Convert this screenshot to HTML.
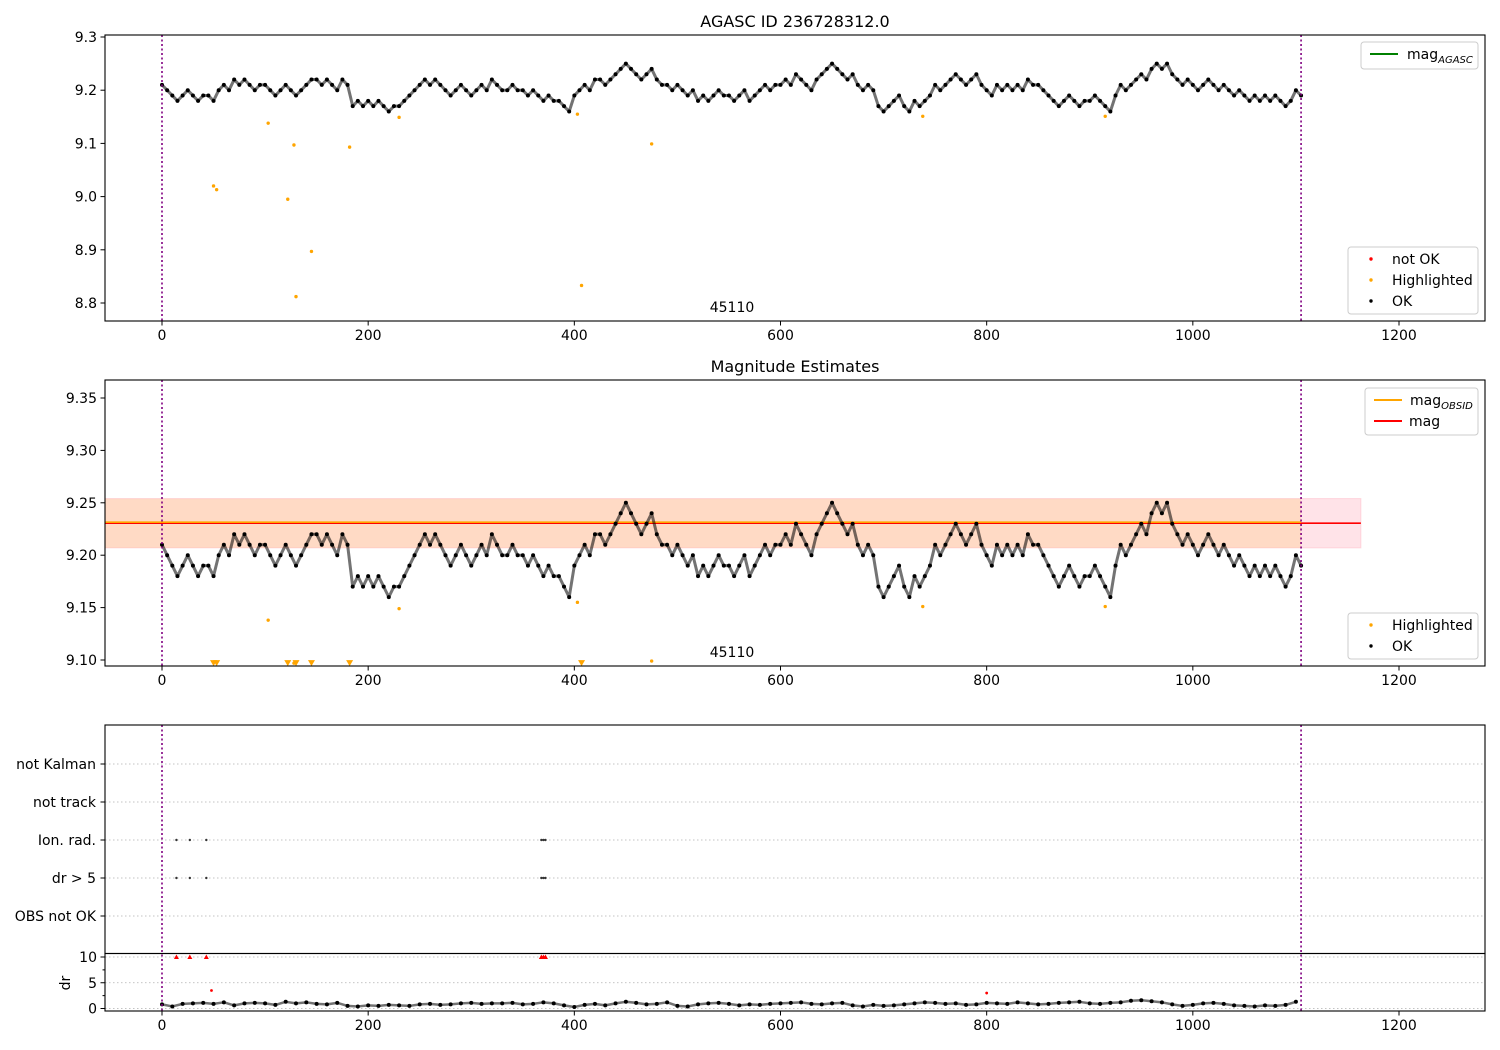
<!DOCTYPE html>
<html><head><meta charset="utf-8"><style>
body{margin:0;background:#fff}
svg{display:block;font-family:"DejaVu Sans","Liberation Sans",sans-serif}
</style></head><body>
<svg id="chart" width="1500" height="1050" xmlns="http://www.w3.org/2000/svg"></svg>
<script>
const magStep = 5;
const magValues = [
9.21,9.20,9.19,9.18,9.19,9.20,9.19,9.18,9.19,9.19,
9.18,9.20,9.21,9.20,9.22,9.21,9.22,9.21,9.20,9.21,
9.21,9.20,9.19,9.20,9.21,9.20,9.19,9.20,9.21,9.22,
9.22,9.21,9.22,9.21,9.20,9.22,9.21,9.17,9.18,9.17,
9.18,9.17,9.18,9.17,9.16,9.17,9.17,9.18,9.19,9.20,
9.21,9.22,9.21,9.22,9.21,9.20,9.19,9.20,9.21,9.20,
9.19,9.20,9.21,9.20,9.22,9.21,9.20,9.20,9.21,9.20,
9.20,9.19,9.20,9.19,9.18,9.19,9.18,9.18,9.17,9.16,
9.19,9.20,9.21,9.20,9.22,9.22,9.21,9.22,9.23,9.24,
9.25,9.24,9.23,9.22,9.23,9.24,9.22,9.21,9.21,9.20,
9.21,9.20,9.19,9.20,9.18,9.19,9.18,9.19,9.20,9.19,
9.19,9.18,9.19,9.20,9.18,9.19,9.20,9.21,9.20,9.21,
9.21,9.22,9.21,9.23,9.22,9.21,9.20,9.22,9.23,9.24,
9.25,9.24,9.23,9.22,9.23,9.21,9.20,9.21,9.20,9.17,
9.16,9.17,9.18,9.19,9.17,9.16,9.18,9.17,9.18,9.19,
9.21,9.20,9.21,9.22,9.23,9.22,9.21,9.22,9.23,9.21,
9.20,9.19,9.21,9.20,9.21,9.20,9.21,9.20,9.22,9.21,
9.21,9.20,9.19,9.18,9.17,9.18,9.19,9.18,9.17,9.18,
9.18,9.19,9.18,9.17,9.16,9.19,9.21,9.20,9.21,9.22,
9.23,9.22,9.24,9.25,9.24,9.25,9.23,9.22,9.21,9.22,
9.21,9.20,9.21,9.22,9.21,9.20,9.21,9.20,9.19,9.20,
9.19,9.18,9.19,9.18,9.19,9.18,9.19,9.18,9.17,9.18,
9.20,9.19];
const hlX = [50,53,103,122,128,130,145,182,230,403,407,475,738,915];
const hlY = [9.02,9.013,9.138,8.995,9.097,8.812,8.897,9.093,9.149,9.155,8.833,9.099,9.151,9.151];
const flagX = [14,27,43,368,370,372];
const drStep = 10;
const drValues = [
0.8,0.4,0.9,1.0,1.1,0.9,1.2,0.6,1.0,1.1,1.0,0.7,1.3,1.0,1.2,0.9,0.8,1.1,0.5,0.4,
0.6,0.5,0.7,0.6,0.5,0.8,0.9,0.7,0.8,1.0,1.1,0.9,1.0,1.0,1.1,0.8,0.9,1.2,1.0,0.6,
0.3,0.7,0.9,0.6,1.0,1.3,1.1,0.8,0.9,1.2,0.5,0.4,0.8,1.0,1.1,0.9,0.6,0.8,0.7,0.9,
1.0,1.1,1.2,0.9,0.8,1.0,1.1,0.6,0.4,0.7,0.5,0.6,0.8,1.0,1.2,1.1,0.9,1.0,0.7,0.8,
1.1,1.0,0.9,1.2,1.0,0.8,0.9,1.1,1.2,1.3,1.0,0.9,1.1,1.2,1.5,1.6,1.4,1.2,0.8,0.5,
0.7,1.0,1.1,0.9,0.6,0.5,0.4,0.6,0.5,0.7,1.3];
const drRedX = [48,800];
const drRedY = [3.5,3.0];
const xTicks = [0,200,400,600,800,1000,1200];
const p1Ticks = [8.8,8.9,9.0,9.1,9.2,9.3];
const p2Ticks = [9.10,9.15,9.20,9.25,9.30,9.35];
const flagLabels = ["OBS not OK","dr > 5","Ion. rad.","not track","not Kalman"];
const drTicks = [0,5,10];
const magLine = 9.2305, magObsid = 9.2315, bandLo = 9.207, bandHi = 9.254;

const svg = document.getElementById('chart');
const NS = 'http://www.w3.org/2000/svg';
const FS = 14;
function mk(tag, attrs, parent){const e=document.createElementNS(NS,tag);for(const k in attrs)e.setAttribute(k,attrs[k]);(parent||svg).appendChild(e);return e;}
const L=105,R=1485;
const X = v => 162 + v*1237/1200;
const Y1 = v => 303 + (8.8 - v)*532;
const Y2 = v => 660 + (9.10 - v)*1048;
const Yf = i => 916 - i*38;
const Yd = v => 1008.5 - v*5.15;

function axesBox(top,bot,name){
  const r=mk('rect',{x:L,y:top,width:R-L,height:bot-top,fill:'none',stroke:'#000','stroke-width':1.1});
  
  
}
function xAxis(bot,name){
  const g=mk('g',{});
  
  
  xTicks.forEach(t=>{mk('line',{x1:X(t),x2:X(t),y1:bot,y2:bot+4.5,stroke:'#000'},g);
    const tx=mk('text',{x:X(t),y:bot+19,'font-size':FS,'text-anchor':'middle'},g);tx.textContent=t;});
}
function yAxis(ticks,Y,fmt,name){
  const g=mk('g',{});
  
  
  ticks.forEach(t=>{mk('line',{x1:L-4.5,x2:L,y1:Y(t),y2:Y(t),stroke:'#000'},g);
    const tx=mk('text',{x:L-8,y:Y(t)+5,'font-size':FS,'text-anchor':'end'},g);tx.textContent=fmt(t);});
}
function vlines(top,bot){
  [0,1105].forEach(v=>{const l=mk('line',{x1:X(v),x2:X(v),y1:top,y2:bot,stroke:'#800080','stroke-width':1.6,'stroke-dasharray':'2,2.5'});
    
    });
}
function title(txt,y,name){const t=mk('text',{x:795,y:y,'font-size':16,'text-anchor':'middle'});t.textContent=txt;
  
  }
function series(vals,step,Y,g,w){
  mk('polyline',{points:vals.map((v,i)=>X(i*step)+','+Y(v)).join(' '),fill:'none',stroke:'#000','stroke-width':w,'stroke-opacity':0.55,'stroke-linejoin':'round'},g);
  vals.forEach((v,i)=>{mk('circle',{cx:X(i*step),cy:Y(v),r:2,fill:'#000'},g);});
}

// ---------- Panel 1 ----------
title('AGASC ID 236728312.0',27,'top-chart-title');
const g1=mk('g',{});


series(magValues,magStep,Y1,g1,3);
hlX.forEach((x,i)=>{const c=mk('circle',{cx:X(x),cy:Y1(hlY[i]),r:1.7,fill:'orange'});
  
  });
vlines(35,321);
axesBox(35,321,'agasc-axes');
xAxis(321,'agasc-x-axis');
yAxis(p1Ticks,Y1,t=>t.toFixed(1),'agasc-y-axis');
let t=mk('text',{x:732,y:312,'font-size':FS,'text-anchor':'middle'});t.textContent='45110';



function legend(x,y,w,h,entries,name){
  const g=mk('g',{});
  
  
  mk('rect',{x:x,y:y,width:w,height:h,rx:3,fill:'#fff','fill-opacity':0.85,stroke:'#ccc'},g);
  entries.forEach((e,i)=>{const cy=y+12+i*21;
    if(e.type==='line')mk('line',{x1:x+9,x2:x+37,y1:cy,y2:cy,stroke:e.c,'stroke-width':2},g);
    else mk('circle',{cx:x+23,cy:cy,r:1.7,fill:e.c},g);
    const tx=mk('text',{x:x+e.tx,y:cy+5,'font-size':FS},g);tx.innerHTML=e.t;});
}
legend(1361,42,117,27,[{type:'line',c:'green',tx:46,t:'mag<tspan font-size="10" font-style="italic" dy="4">AGASC</tspan>'}],'agasc-legend-top');
legend(1348,247,130,67,[{c:'red',tx:44,t:'not OK'},{c:'orange',tx:44,t:'Highlighted'},{c:'#000',tx:44,t:'OK'}],'agasc-legend-bottom');

// ---------- Panel 2 ----------
title('Magnitude Estimates',372,'middle-chart-title');
const band=mk('rect',{x:L,y:Y2(bandHi),width:X(1163)-L,height:Y2(bandLo)-Y2(bandHi),fill:'#ffc0cb','fill-opacity':0.45,stroke:'#ffc0cb','stroke-opacity':0.6});


const band2=mk('rect',{x:L,y:Y2(bandHi),width:X(1105)-L,height:Y2(bandLo)-Y2(bandHi),fill:'#ffa500','fill-opacity':0.15});


const ml=mk('line',{x1:L,x2:X(1163),y1:Y2(magLine),y2:Y2(magLine),stroke:'red','stroke-width':1.6});


const mo=mk('line',{x1:L,x2:X(1105),y1:Y2(magObsid),y2:Y2(magObsid),stroke:'orange','stroke-width':1.6});


const g2=mk('g',{});


series(magValues,magStep,Y2,g2,3);
hlX.forEach((x,i)=>{const v=hlY[i];
  if(v<9.096){const cx=X(x),cy=Y2(9.097);
    const p=mk('path',{d:`M${cx-3.5},${cy-3} L${cx+3.5},${cy-3} L${cx},${cy+3} Z`,fill:'orange'});
    
    }
  else{const c=mk('circle',{cx:X(x),cy:Y2(v),r:1.7,fill:'orange'});
    
    }});
vlines(380,666);
axesBox(380,666,'estimates-axes');
xAxis(666,'estimates-x-axis');
yAxis(p2Ticks,Y2,t=>t.toFixed(2),'estimates-y-axis');
t=mk('text',{x:732,y:657,'font-size':FS,'text-anchor':'middle'});t.textContent='45110';


legend(1365,388,113,47,[{type:'line',c:'orange',tx:45,t:'mag<tspan font-size="10" font-style="italic" dy="4">OBSID</tspan>'},{type:'line',c:'red',tx:44,t:'mag'}],'estimates-legend-top');
legend(1348,613,130,46,[{c:'orange',tx:44,t:'Highlighted'},{c:'#000',tx:44,t:'OK'}],'estimates-legend-bottom');

// ---------- Panel 3 flags ----------
flagLabels.forEach((lab,i)=>{mk('line',{x1:L,x2:R,y1:Yf(i),y2:Yf(i),stroke:'#b0b0b0','stroke-width':0.8,'stroke-dasharray':'1.5,2.5'});});
const g3=mk('g',{});


flagX.forEach(x=>{[1,2].forEach(i=>mk('circle',{cx:X(x),cy:Yf(i),r:1.2,fill:'#333'},g3));});
const gf=mk('g',{});


flagLabels.forEach((lab,i)=>{mk('line',{x1:L-4.5,x2:L,y1:Yf(i),y2:Yf(i),stroke:'#000'},gf);
  const tx=mk('text',{x:L-9,y:Yf(i)+5,'font-size':FS,'text-anchor':'end'},gf);tx.textContent=lab;});

// ---------- dr panel ----------
drTicks.forEach(v=>mk('line',{x1:L,x2:R,y1:Yd(v),y2:Yd(v),stroke:'#b0b0b0','stroke-width':0.8,'stroke-dasharray':'1.5,2.5'}));
const g4=mk('g',{});


series(drValues,drStep,Yd,g4,2.5);
flagX.forEach(x=>{const cx=X(x),cy=Yd(10);
  const p=mk('path',{d:`M${cx-2.5},${cy+2} L${cx+2.5},${cy+2} L${cx},${cy-2.5} Z`,fill:'red'});
  
  });
drRedX.forEach((x,i)=>{const c=mk('circle',{cx:X(x),cy:Yd(drRedY[i]),r:1.4,fill:'red'});
  
  });
vlines(725,1011);
axesBox(725,953.5,'flags-axes');
axesBox(953.5,1011,'dr-axes');
xAxis(1011,'dr-x-axis');
yAxis(drTicks,Yd,t=>t,'dr-y-axis');
[2.5,7.5].forEach(v=>mk('line',{x1:L-2.5,x2:L,y1:Yd(v),y2:Yd(v),stroke:'#000'}));
const yl=mk('text',{x:70,y:983,'font-size':FS,'text-anchor':'middle',transform:'rotate(-90 70 983)'});yl.textContent='dr';


</script>
</body></html>
